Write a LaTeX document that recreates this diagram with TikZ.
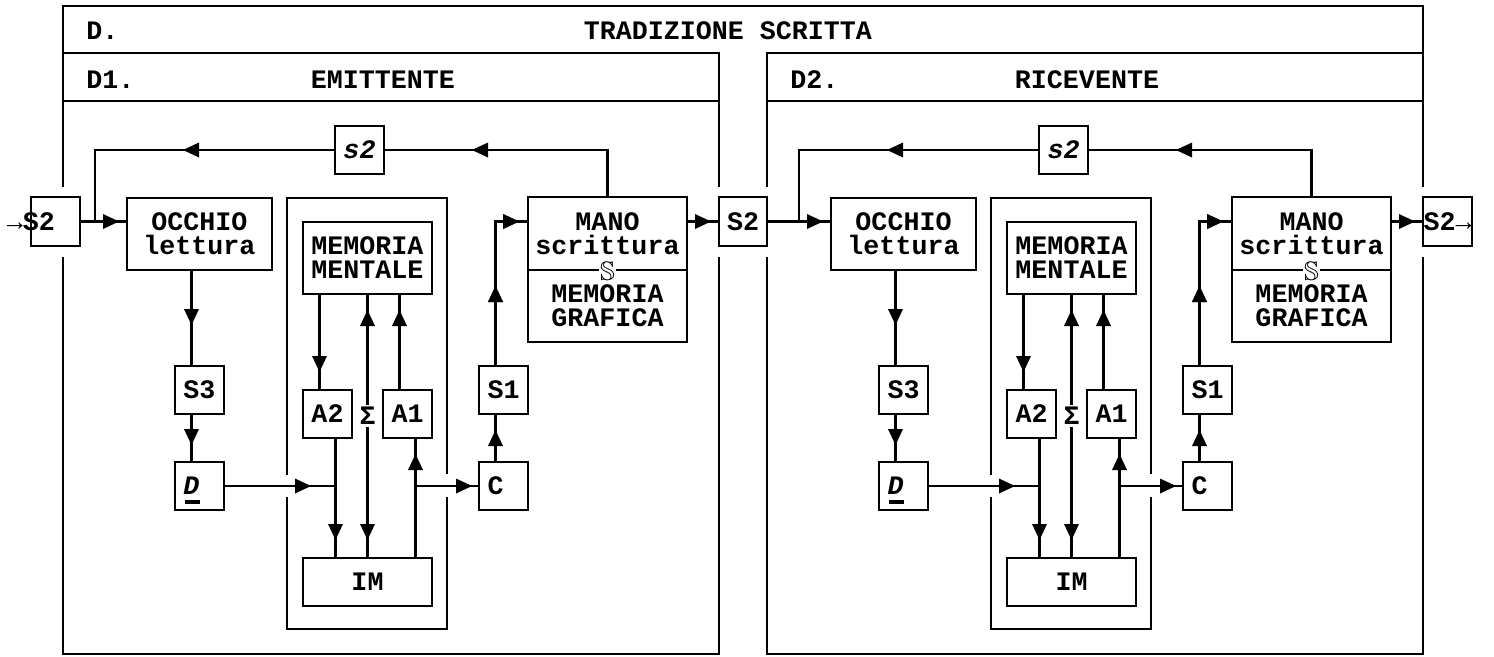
\documentclass[tikz,border=0pt]{standalone}
\usepackage{fontspec}
\usepackage{amssymb}
\setmainfont{Liberation Mono}
\usetikzlibrary{decorations.markings}
\newcommand\dund[1]{\rlap{\hspace{1.5pt}\smash{\rule[-9pt]{15pt}{3.5pt}}}#1}

\begin{document}
\begin{tikzpicture}[x=1pt,y=-1pt,line width=2.6pt,
    font=\fontsize{26.67}{24}\selectfont\bfseries,
    box/.style={draw,inner sep=0pt,outer sep=0pt,align=center},
    sbox/.style={box,minimum width=49,minimum height=48},
    tri/.style={postaction={decorate},decoration={markings,
      mark=at position #1pt with {\fill (0,0) -- (-16,-7.5) -- (-16,7.5) -- cycle;}}}]
\useasboundingbox (0,0) rectangle (1494,656);
% cornice generale
\draw (63,53) -- (63,6) -- (1423,6) -- (1423,53);
\node[anchor=west,inner sep=0pt] (dtit) at (85,31) {D.};
\node (tradtit) at (728,31) {TRADIZIONE SCRITTA};
% S2 fra i pannelli
\node[box,minimum width=49,minimum height=49] (s2in) at (55.5,221.5) {};
\node (s2intxt) at (31,221.5) {→S2};
\node[box,minimum width=48,minimum height=49] (s2mid) at (743,221.5) {S2};
\node[box,minimum width=49,minimum height=49] (s2out) at (1447.5,221.5) {S2→};

\foreach \p/\dx/\inp/\outp/\ptitle/\pname in {1/0/s2in/s2mid/D1./EMITTENTE,2/704/s2mid/s2out/D2./RICEVENTE}{
\begin{scope}[xshift=\dx]
  % pannello
  \draw (63,187) -- (63,53) -- (719,53) -- (719,187);
  \draw (63,257) -- (63,654) -- (719,654) -- (719,257);
  \draw (63,101) -- (719,101);
  \node[anchor=west,inner sep=0pt] (ptitle\p) at (85,79.5) {\ptitle};
  \node (pname\p) at (383,79.5) {\pname};
  % riquadro memoria
  \draw (287,475) -- (287,198) -- (447,198) -- (447,474);
  \draw (447,497) -- (447,629) -- (287,629) -- (287,497);
  % blocchi
  \node[box,minimum width=145,minimum height=72] (occhio\p) at (199.5,234) {OCCHIO\\lettura};
  \node[sbox] (s2fb\p) at (359.5,150) {\textit{s2}};
  \node[box,minimum width=129,minimum height=72] (mm\p) at (367.5,258) {MEMORIA\\MENTALE};
  \node[sbox] (a2\p) at (327.5,414) {A2};
  \node[sbox] (a1\p) at (407.5,414) {A1};
  \node[fill=white,inner sep=1pt] (sigma\p) at (367.5,416) {Σ};
  \node[box,minimum width=129,minimum height=48] (im\p) at (367.5,582) {IM};
  \node[sbox] (s3\p) at (199.5,390) {S3};
  \node[sbox] (dd\p) at (199.5,486) {\dund{\textit{D}}\hphantom{D}};
  \node[sbox] (c\p) at (503.5,486) {C\hphantom{C}};
  \node[sbox] (s1\p) at (503.5,390) {S1};
  \node[box,minimum width=159,minimum height=73] (manotop\p) at (607.5,233.5) {MANO\\scrittura};
  \node[box,minimum width=159,minimum height=72] (manobot\p) at (607.5,306) {MEMORIA\\GRAFICA};
  \node[fill=white,inner sep=1pt] (sep\p) at (607.5,271) {$\mathbb{S}$};
  \coordinate (j\p) at (95,221.5);
  \coordinate (ja\p) at (335.5,486);
  \coordinate (jc\p) at (415.5,486);
  % collegamenti
  \draw[tri=-8] (\inp.east) -- (\inp -| occhio\p.west);
  \draw[tri=-88] (manotop\p.north) |- (s2fb\p.east);
  \draw[tri=152] (s2fb\p.west) -| (j\p);
  \draw[tri=55] ([xshift=-8]occhio\p.south) -- ([xshift=-8]s3\p.north);
  \draw[tri=31] ([xshift=-8]s3\p.south) -- ([xshift=-8]dd\p.north);
  \draw[tri=87] (dd\p.east) -- (ja\p);
  \draw[tri=-18] ([xshift=-48]mm\p.south) -- ([xshift=-8]a2\p.north);
  \draw[tri=-18] ([xshift=8]a2\p.south) -- ([xshift=-32]im\p.north);
  \draw[tri=-16] (sigma\p.north) -- (mm\p.south);
  \draw[tri=-18] (sigma\p.south) -- (im\p.north);
  \draw[tri=-16] ([xshift=-8]a1\p.north) -- ([xshift=32]mm\p.south);
  \draw[tri=-16] ([xshift=48]im\p.north) -- ([xshift=8]a1\p.south);
  \draw[tri=-7] (jc\p) -- (c\p.west);
  \draw[tri=-16] ([xshift=-8]c\p.north) -- ([xshift=-8]s1\p.south);
  \draw[tri=80,tri=-9] ([xshift=-8]s1\p.north) |- (manotop\p.west |- \outp);
  \draw[tri=-8] (manotop\p.east |- \outp) -- (\outp.west);
\end{scope}}
\end{tikzpicture}
\end{document}
